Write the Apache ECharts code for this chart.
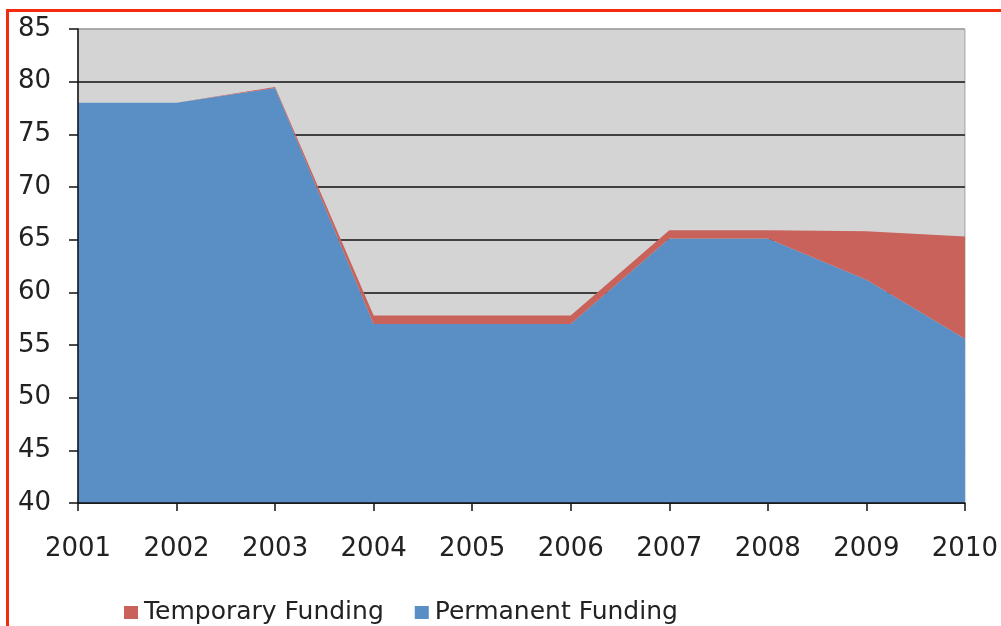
<!DOCTYPE html>
<html>
<head>
<meta charset="utf-8">
<script src="https://cdn.jsdelivr.net/npm/echarts@6/dist/echarts.min.js"></script>
<style>
  html, body { margin: 0; padding: 0; background: #fff; overflow: hidden; }
  #frame {
    position: absolute; left: 6px; top: 9px;
    width: 1100px; height: 700px;
    border-left: 3px solid #f42a0c; border-top: 3px solid #f42a0c;
  }
  #chart { position: absolute; left: 0; top: 0; width: 1001px; height: 626px; }
</style>
</head>
<body>
<div id="frame"></div>
<div id="chart"></div>
<script>
const years = ['2001', '2002', '2003', '2004', '2005', '2006', '2007', '2008', '2009', '2010']
const permanentFunding = [78.0, 78.0, 79.4, 57.0, 57.0, 57.0, 65.1, 65.1, 61.2, 55.6]
const temporaryFunding = [0.0, 0.0, 0.1, 0.8, 0.8, 0.8, 0.8, 0.8, 4.6, 9.7]

const fontFamily = '"DejaVu Sans", Verdana, sans-serif'
const chart = echarts.init(document.getElementById('chart'))

// gridlines black, except the top one which is the grey plot border
const gridColors = ['#111', '#111', '#111', '#111', '#111', '#111', '#111', '#111', '#111', '#a0a0a0']

const option = {
  animation: false,
  grid: {
    show: true,
    left: 78,
    right: 36,
    top: 29,
    bottom: 123,
    backgroundColor: '#d4d4d4',
    borderColor: '#a0a0a0',
    borderWidth: 1
  },
  legend: {
    left: 119,
    top: 595,
    icon: 'rect',
    itemWidth: 14,
    itemHeight: 13,
    itemGap: 31,
    textStyle: { fontFamily, fontSize: 25, color: '#222', padding: [0, 0, 0, 1] },
    data: ['Temporary Funding', 'Permanent Funding']
  },
  xAxis: {
    type: 'category',
    data: years,
    boundaryGap: false,
    z: 5,
    axisLine: { lineStyle: { color: '#111', width: 1.5 } },
    axisTick: { show: true, length: 8, alignWithLabel: true, lineStyle: { color: '#111', width: 1.5 } },
    axisLabel: { fontFamily, fontSize: 26, color: '#222', margin: 33 }
  },
  yAxis: [
    {
      type: 'value',
      min: 40,
      max: 85,
      interval: 5,
      axisLine: { show: false },
      axisTick: { show: false },
      axisLabel: { show: false },
      splitLine: { lineStyle: { color: gridColors, width: 1.5 } }
    },
    {
      type: 'value',
      position: 'left',
      min: 40,
      max: 85,
      interval: 5,
      z: 5,
      axisLine: { show: true, lineStyle: { color: '#111', width: 1.5 } },
      axisTick: { show: true, length: 9, lineStyle: { color: '#111', width: 1.5 } },
      axisLabel: { fontFamily, fontSize: 26, color: '#222', margin: 27 },
      splitLine: { show: false }
    }
  ],
  series: [
    {
      name: 'Permanent Funding',
      type: 'line',
      stack: 'total',
      data: permanentFunding,
      showSymbol: false,
      lineStyle: { width: 0 },
      itemStyle: { color: '#5a8fc5' },
      areaStyle: { color: '#5a8fc5', opacity: 1 }
    },
    {
      name: 'Temporary Funding',
      type: 'line',
      stack: 'total',
      data: temporaryFunding,
      showSymbol: false,
      lineStyle: { width: 0 },
      itemStyle: { color: '#c8625a' },
      areaStyle: { color: '#c8625a', opacity: 1 }
    }
  ]
}

chart.setOption(option)
</script>
</body>
</html>
